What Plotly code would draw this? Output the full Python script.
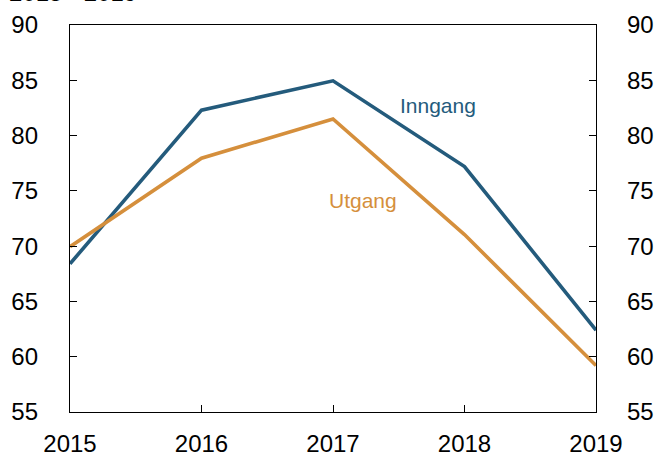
import plotly.graph_objects as go

years = [2015, 2016, 2017, 2018, 2019]
inngang = [68.4, 82.3, 84.95, 77.2, 62.4]
utgang = [69.95, 77.95, 81.5, 71.05, 59.2]
y_ticks = [55, 60, 65, 70, 75, 80, 85, 90]
header = "2015 - 2019"

blue = "#245b7c"
orange = "#d58f3c"
font = "Liberation Sans, Arial, sans-serif"

fig = go.Figure()
fig.add_trace(go.Scatter(x=years, y=inngang, mode="lines", line=dict(color=blue, width=3.6),
                         name="Inngang", showlegend=False))
fig.add_trace(go.Scatter(x=years, y=utgang, mode="lines", line=dict(color=orange, width=3.6),
                         name="Utgang", showlegend=False))
fig.add_trace(go.Scatter(x=years, y=utgang, mode="lines", line=dict(width=0), yaxis="y2",
                         hoverinfo="skip", showlegend=False, opacity=0))

fig.add_annotation(x=2017.8, y=82.7, text="Inngang", showarrow=False,
                   font=dict(color=blue, size=21, family=font))
fig.add_annotation(x=2017.23, y=74.15, text="Utgang", showarrow=False,
                   font=dict(color=orange, size=21, family=font))
fig.add_annotation(xref="paper", yref="paper", x=-0.12, y=1.043, xanchor="left", yanchor="bottom",
                   text=header, showarrow=False, font=dict(color="black", size=24, family=font))

axis_font = dict(size=24, family=font, color="black")
fig.update_layout(
    width=656, height=452,
    margin=dict(l=70, r=60, t=25, b=40),
    paper_bgcolor="white", plot_bgcolor="white",
    xaxis=dict(range=[2015, 2019], tickvals=years, ticks="inside", ticklen=7, tickwidth=1.3,
               tickcolor="black", showline=True, linecolor="black", linewidth=1.3, mirror=True,
               showgrid=False, zeroline=False, tickfont=axis_font, ticklabelstandoff=10,
               automargin=False),
    yaxis=dict(range=[55, 90], tickvals=y_ticks, ticks="inside", ticklen=7, tickwidth=1.3,
               tickcolor="black", showline=True, linecolor="black", linewidth=1.3, mirror="ticks",
               showgrid=False, zeroline=False, tickfont=axis_font, ticklabelstandoff=26,
               automargin=False),
    yaxis2=dict(range=[55, 90], tickvals=y_ticks, overlaying="y", side="right", ticks="inside",
                ticklen=0, showline=False, showgrid=False, zeroline=False, tickfont=axis_font,
                ticklabelstandoff=30, automargin=False),
)

fig.write_html("out.html", config={"displayModeBar": False},
               post_script="document.body.style.margin='0';document.body.style.padding='0';")
